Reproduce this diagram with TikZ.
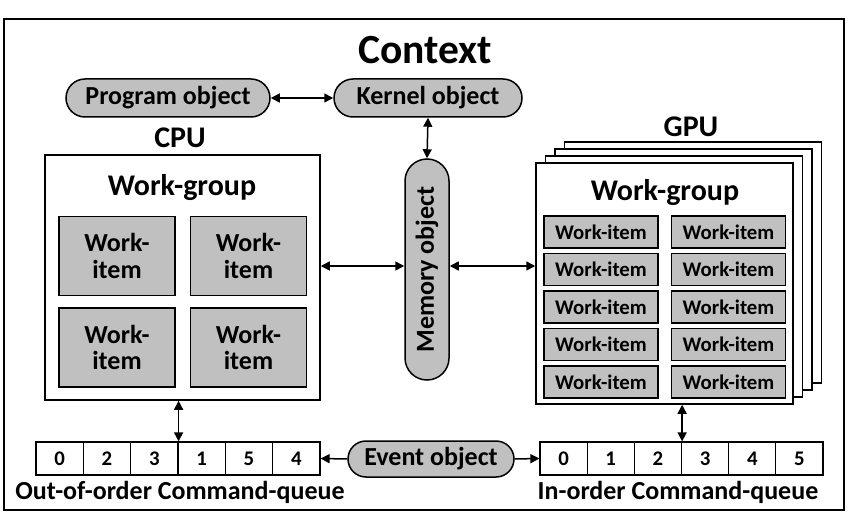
\documentclass[tikz,border=0pt]{standalone}
\usepackage{fontspec}
\setmainfont[Numbers=Lining]{Carlito}
\usetikzlibrary{arrows.meta,calc}
\definecolor{boxgray}{RGB}{192,192,192}
\begin{document}
\begin{tikzpicture}[x=1pt,y=-1pt,
  fs/.style={font=\bfseries\fontsize{#1}{#1}\selectfont},
  plain/.style={inner sep=0pt,anchor=center},
  pill/.style={draw,line width=1.5pt,fill=boxgray,inner sep=0pt,anchor=center,rounded corners=#1,fs=26},
  frame/.style={draw,line width=1.5pt,fill=white,inner sep=0pt,anchor=center},
  citem/.style={draw,line width=1.5pt,fill=boxgray,inner sep=0pt,anchor=center,minimum width=116pt,minimum height=79pt,align=center,font=\bfseries\fontsize{26}{26.5}\selectfont},
  gitem/.style={draw,line width=1.5pt,fill=boxgray,inner sep=0pt,anchor=center,minimum width=114pt,minimum height=32pt,fs=20.8},
  qcell/.style={draw,line width=1.2pt,fill=white,inner sep=0pt,anchor=center,minimum height=33pt,fs=20.8},
  arr/.style={line width=1.5pt,{Triangle[length=9pt,width=9pt]}-{Triangle[length=9pt,width=9pt]}},
  rarr/.style={line width=1.5pt,-{Triangle[length=9pt,width=9pt]}}
]
\useasboundingbox (0,0) rectangle (850,518);
\draw[line width=2pt] (4,19) rectangle (844,510);

\node[plain,fs=41.5] (ctx) at (425,50) {Context};

\node[pill=19pt,minimum width=204pt,minimum height=38pt] (prog) at (168,98) {Program object};
\node[pill=19pt,minimum width=188pt,minimum height=38pt] (kern) at (428,98) {Kernel object};
\node[pill=22pt,minimum width=221pt,minimum height=44pt,rotate=90] (mem) at (427,269.5) {Memory object};

% CPU
\node[plain,fs=30] (cpul) at (180,138) {CPU};
\node[frame,minimum width=275pt,minimum height=245pt] (cpu) at (182.5,277.5) {};
\node[plain,fs=30] (cwg) at (182,188) {Work-group};
\node[citem] (c1) at (117,256) {Work-\\item};
\node[citem] (c2) at (248.5,256) {Work-\\item};
\node[citem] (c3) at (117,347.5) {Work-\\item};
\node[citem] (c4) at (248.5,347.5) {Work-\\item};

% GPU
\node[plain,fs=30] (gpul) at (691,127) {GPU};
\node[frame,minimum width=257pt,minimum height=241pt] (g3) at (664.5+28.5,283.5-21) {};
\node[frame,minimum width=257pt,minimum height=241pt] (g2) at (664.5+19,283.5-14) {};
\node[frame,minimum width=257pt,minimum height=241pt] (g1) at (664.5+9.5,283.5-7) {};
\node[frame,minimum width=257pt,minimum height=241pt] (gpu) at (664.5,283.5) {};
\node[plain,fs=30] (gwg) at (665,193) {Work-group};
\foreach \r [count=\k] in {232,269.5,307,344.5,382} {
  \node[gitem] (gl\k) at (601,\r) {Work-item};
  \node[gitem] (gr\k) at (728.5,\r) {Work-item};
}

% queues
\foreach \v [count=\i] in {0,2,3,1,5,4}
  \node[qcell,minimum width=47.33pt] (lq\i) at ({36+47.33*(\i-0.5)},458.5) {\v};
\foreach \v [count=\i] in {0,1,2,3,4,5}
  \node[qcell,minimum width=47.17pt] (rq\i) at ({540+47.17*(\i-0.5)},458.5) {\v};
\node[plain,fs=26] (lql) at (180,492) {Out-of-order Command-queue};
\node[plain,fs=26] (rql) at (678,492) {In-order Command-queue};

\node[pill=18pt,minimum width=166pt,minimum height=36pt] (ev) at (431,459) {Event object};

% connectors
\draw[arr] (prog.east) -- (kern.west);
\draw[arr] (kern.south) -- (mem.east);
\draw[arr] (cpu.east |- 0,266) -- (mem.north |- 0,266);
\draw[arr] (mem.south |- 0,266) -- (gpu.west |- 0,266);
\draw[arr] (lq3.north east |- cpu.south) -- (lq3.north east);
\draw[arr] (rq3.north east |- gpu.south) -- (rq3.north east);
\draw[rarr] (ev.west) -- (lq6.east);
\draw[rarr] (ev.east) -- (rq1.west);
\end{tikzpicture}
\end{document}
